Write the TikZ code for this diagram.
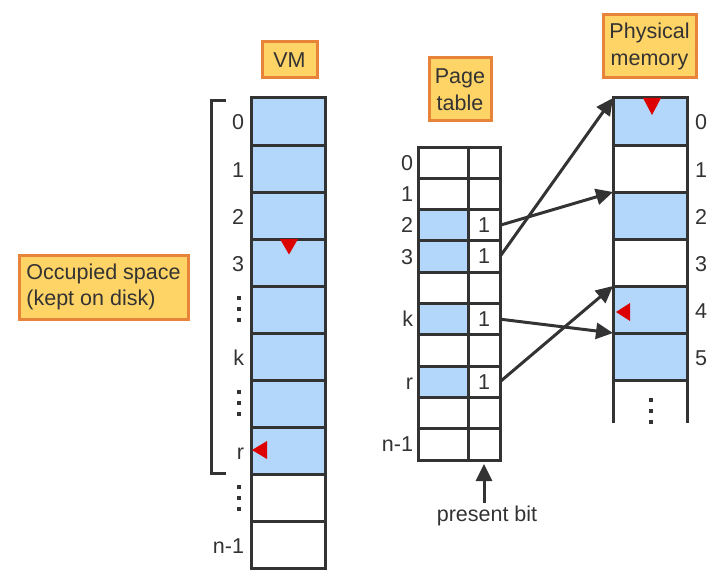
\documentclass[tikz,border=0pt]{standalone}
\usepackage{fontspec}
\setmainfont{Liberation Sans}
\usetikzlibrary{arrows.meta}
\definecolor{ink}{HTML}{333333}
\definecolor{cellblue}{HTML}{B3D7FA}
\definecolor{tagfill}{HTML}{FFD466}
\definecolor{tagline}{HTML}{E8833A}
\definecolor{redmark}{HTML}{DD0000}
\begin{document}
\begin{tikzpicture}[x=1pt,y=-1pt,
  txt/.style={font=\fontsize{21.5}{26.5}\selectfont, text=ink, inner sep=0pt, outer sep=0pt},
  tag/.style={txt, draw=tagline, fill=tagfill, line width=3pt, align=center},
  cell/.style={txt, draw=ink, line width=3pt, fill=white},
  vmcell/.style={cell, minimum width=74pt, minimum height=47pt},
  pmcell/.style={cell, minimum width=74pt, minimum height=47pt},
  ptl/.style={cell, minimum width=50pt, minimum height=31.3pt},
  ptr/.style={cell, minimum width=32pt, minimum height=31.3pt},
  blue/.style={fill=cellblue},
  arr/.style={draw=ink, line width=3pt, -{Triangle[length=17pt,width=16pt]}},
  tri/.style={fill=redmark},
  dotsq/.style={fill=ink}
]
\useasboundingbox (0,0) rectangle (725,583);

% ---------- tags ----------
\node[tag, minimum width=55pt, minimum height=36pt] (vmtag) at (289.5,60) {VM};
\node[tag, minimum width=62pt, minimum height=63pt] (pttag) at (460,89.5) {Page\\table};
\node[tag, minimum width=93pt, minimum height=63pt] (pmtag) at (649.5,46.5) {Physical\\memory};
\node[tag, minimum width=169pt, minimum height=64pt, align=left] (occtag) at (103.5,287) {Occupied space\\(kept on disk)};

% ---------- VM column ----------
\foreach \i/\lab/\shade in {0/0/blue,1/1/blue,2/2/blue,3/3/blue,4//blue,5/k/blue,6//blue,7/r/blue,8//,9/n-1/} {
  \node[vmcell,\shade] (vm\i) at (288,{98+47*\i+23.5}) {};
  \node[txt, anchor=base east] (vml\i) at (244,{98+47*\i+23.5+8.5}) {\lab};
}
% bracket
\draw[ink, line width=3pt] (226,101) -- (211,101) -- (211,473) -- (226,473);
% dots in VM labels
\foreach \cy in {309,403,498} {
  \foreach \d in {-11,0,11} \fill[dotsq] (237,{\cy+\d-2}) rectangle ++(4,4);
}
% red markers in VM
\fill[tri] (280,239) -- (298,239) -- (289,254.5) -- cycle;
\fill[tri] (252,450) -- (267,441) -- (267,459) -- cycle;

% ---------- Page table ----------
\foreach \i/\lab/\shade/\bit in {0/0//,1/1//,2/2/blue/1,3/3/blue/1,4///,5/k/blue/1,6///,7/r/blue/1,8///,9/n-1//} {
  \node[ptl,\shade] (pta\i) at (443,{147+31.3*\i+15.65}) {};
  \node[ptr] (ptb\i) at (484,{147+31.3*\i+15.65}) {\bit};
  \node[txt, anchor=base east] (ptlab\i) at (413,{147+31.3*\i+15.65+7.5}) {\lab};
}

% ---------- Physical memory ----------
\foreach \i/\shade in {0/blue,1/,2/blue,3/,4/blue,5/blue} {
  \node[pmcell,\shade] (pm\i) at (650,{98+47*\i+23.5}) {};
  \node[txt, anchor=base west] (pml\i) at (695,{98+47*\i+23.5+8.5}) {\i};
}
\coordinate (pmbl) at (613,423);
\coordinate (pmbr) at (687,423);
\draw[ink, line width=3pt] (pm5.south west) -- (pmbl);
\draw[ink, line width=3pt] (pm5.south east) -- (pmbr);
\foreach \d in {-11,0,11} \fill[dotsq] (649,{411+\d-2}) rectangle ++(4,4);
% red markers in physical memory
\fill[tri] (643,98) -- (661,98) -- (652,115) -- cycle;
\fill[tri] (616,312) -- (630,303) -- (630,321) -- cycle;

% ---------- mapping arrows ----------
\draw[arr] (ptb2.east) -- (pm2.north west);
\draw[arr] (ptb3.east) -- (pm0.north west);
\draw[arr] (ptb5.east) -- (pm5.north west);
\draw[arr] (ptb7.east) -- (pm4.north west);

% ---------- present bit ----------
\node[txt] (pbit) at (487,516) {present bit};
\draw[arr, shorten >=4pt, shorten <=3pt] (pbit.north -| ptb9.south) -- (ptb9.south);
\end{tikzpicture}
\end{document}
